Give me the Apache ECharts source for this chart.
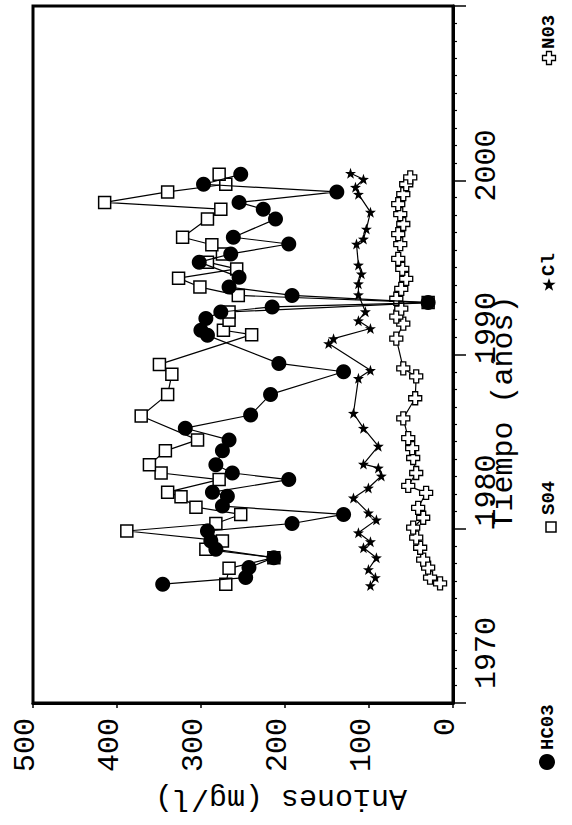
<!DOCTYPE html>
<html><head><meta charset="utf-8">
<script src="https://cdn.jsdelivr.net/npm/echarts@6/dist/echarts.min.js"></script>
<style>html,body{margin:0;padding:0;background:#fff}#c{width:572px;height:825px}</style>
</head><body><div id="c"></div>
<script>
// ---- data ----
const valueTicks = [0, 100, 200, 300, 400, 500];
const yearTicks = [1970, 1980, 1990, 2000];
const seriesNames = ['HC03', 'S04', 'Cl', 'N03'];

const hco3Years = [1976.82,1977.20,1977.77,1978.34,1978.82,1979.30,1979.87,1980.30,1980.82,1981.30,1981.87,1982.10,1982.82,1983.20,1983.67,1984.47,1985.10,1985.77,1986.53,1987.71,1989.01,1989.49,1991.10,1991.39,1992.06,1992.44,1992.73,1992.98,1993.39,1993.87,1994.44,1995.30,1995.77,1996.34,1996.73,1997.77,1998.34,1998.73,1999.33,1999.77,2000.34];
const hco3Values = [345.6,246.8,242.9,213.3,282.3,288.3,292.3,191.6,130.3,274.5,268.6,286.4,195.5,262.7,282.3,274.5,266.6,318.7,240.9,217.2,130.3,207.3,292.3,300.1,294.2,276.4,215.3,29.6,191.6,266.6,254.7,302.1,264.6,195.5,261.5,211.3,225.9,254.7,138.3,297.0,252.7];

const so4Years = [1976.82,1977.73,1978.34,1978.82,1979.30,1979.87,1980.30,1980.82,1981.24,1981.83,1982.10,1982.82,1983.20,1983.67,1984.47,1985.10,1986.47,1987.71,1988.86,1989.43,1991.14,1991.39,1991.96,1992.44,1992.98,1993.39,1993.87,1994.38,1994.91,1995.30,1995.77,1996.30,1996.73,1997.77,1998.34,1998.73,1999.33,1999.77,2000.34];
const so4Values = [270.5,266.6,213.3,294.2,274.5,388.3,282.3,252.7,306.0,323.8,339.7,278.4,347.5,361.4,342.4,304.1,371.2,339.7,334.7,349.5,239.7,273.3,266.6,266.6,29.6,255.6,301.3,326.7,257.5,292.3,274.5,287.1,321.9,292.3,276.4,414.7,339.7,270.5,278.4];

const clYears = [1976.74,1977.20,1977.66,1978.34,1978.91,1979.26,1979.77,1980.51,1980.91,1981.77,1982.34,1983.03,1983.49,1983.71,1984.74,1985.77,1986.63,1988.63,1989.09,1990.63,1990.91,1991.49,1991.94,1992.46,1993.43,1994.06,1994.63,1995.14,1996.34,1996.63,1997.20,1998.17,1999.20,1999.60,2000.06,2000.40];
const clValues = [98.3,92.4,100.7,91.2,106.6,98.3,112.6,91.2,100.7,118.5,100.7,85.3,88.9,106.6,88.9,106.6,118.5,112.6,98.3,148.1,142.2,98.3,112.6,104.3,112.6,112.6,109.0,112.6,114.9,106.6,103.1,98.3,112.6,116.1,106.6,122.0];

const no3Years = [1976.86,1977.20,1977.77,1978.23,1978.91,1979.49,1980.06,1980.63,1981.20,1982.06,1982.46,1983.20,1984.06,1984.63,1985.20,1986.34,1987.49,1988.74,1989.20,1990.91,1991.77,1992.17,1992.63,1993.20,1993.77,1994.34,1994.91,1995.49,1996.34,1996.91,1997.49,1998.06,1998.63,1999.20,1999.77,2000.17];
const no3Values = [15.4,27.3,29.6,35.5,39.1,43.8,47.4,35.5,41.5,32.0,53.3,43.8,47.4,48.6,53.3,59.2,45.0,43.8,59.2,67.5,59.2,67.5,61.6,67.5,61.6,55.7,60.4,65.2,62.8,65.2,59.2,62.8,65.2,59.2,55.7,50.9];

// ---- chart ----
const MONO = '"Liberation Mono", "Courier New", monospace';
const chart = echarts.init(document.getElementById('c'), null, {renderer: 'svg'});
function pairs(vals, yrs) { return vals.map((v, i) => [v, yrs[i]]); }

const starPath = 'path://M0,-10L2.35,-3.24L9.51,-3.09L3.8,1.24L5.88,8.09L0,4L-5.88,8.09L-3.8,1.24L-9.51,-3.09L-2.35,-3.24Z';
const crossPath = 'path://M-2.5,-6.5L2.5,-6.5L2.5,-2.5L6.5,-2.5L6.5,2.5L2.5,2.5L2.5,6.5L-2.5,6.5L-2.5,2.5L-6.5,2.5L-6.5,-2.5L-2.5,-2.5Z';

function starPts(cx, cy, R) {
  const pts = [];
  for (let i = 0; i < 10; i++) {
    const r = i % 2 === 0 ? R : R * 0.4;
    const a = -Math.PI / 2 + i * Math.PI / 5;
    pts.push([cx + r * Math.cos(a), cy + r * Math.sin(a)]);
  }
  return pts;
}
function crossPts(cx, cy, a, b) {
  return [[cx-b,cy-a],[cx+b,cy-a],[cx+b,cy-b],[cx+a,cy-b],[cx+a,cy+b],[cx+b,cy+b],[cx+b,cy+a],[cx-b,cy+a],[cx-b,cy+b],[cx-a,cy+b],[cx-a,cy-b],[cx-b,cy-b]];
}
const legendFont = 'bold 19px ' + MONO;
function legendText(txt, x, y) {
  return {type: 'text', x: x, y: y, rotation: Math.PI / 2,
    style: {text: txt, font: legendFont, fill: '#000', textAlign: 'left', textVerticalAlign: 'middle', align: 'left', verticalAlign: 'middle'}};
}

const lineStyle = {color: '#000', width: 1.2};
const labelText = {fontFamily: MONO, fontSize: 30, color: '#000'};
const hidden = {axisLine: {show: false}, axisTick: {show: false}, splitLine: {show: false}, axisLabel: {show: false}};
const option = {
  animation: false,
  backgroundColor: '#fff',
  grid: [
    {left: 33, right: 119, top: 6, bottom: 122, show: true, borderColor: '#000', borderWidth: 3, backgroundColor: 'transparent'},
    // label carrier for the value labels (printed a little left of their ticks)
    {left: 26, right: 126, top: 6, bottom: 122, show: false},
    // label carrier for the year labels (printed above their ticks)
    {left: 33, right: 119, top: -44, bottom: 172, show: false}
  ],
  xAxis: [{
    gridIndex: 0, type: 'value', min: 0, max: 500, interval: 100, inverse: true, position: 'bottom',
    axisLine: {show: true, onZero: false, lineStyle: {color: '#000', width: 3}},
    axisTick: {show: true, length: 5, lineStyle: {color: '#000', width: 1.5}},
    splitLine: {show: false},
    axisLabel: {show: false},
    name: 'Aniones (mg/l)', nameLocation: 'middle', nameRotate: 180, nameGap: 80, nameMoveOverlap: false,
    nameTextStyle: Object.assign({padding: [0, 76, 0, 0]}, labelText)
  }, {
    gridIndex: 1, type: 'value', min: 0, max: 500, interval: 100, inverse: true, position: 'bottom',
    axisLine: {show: false, onZero: false}, axisTick: {show: false}, splitLine: {show: false},
    axisLabel: Object.assign({rotate: 90, margin: 15, formatter: v => String(v)}, labelText)
  }, Object.assign({gridIndex: 2, type: 'value', min: 0, max: 500}, hidden)],
  yAxis: [{
    gridIndex: 0, type: 'value', min: 1970, max: 2010, interval: 10, position: 'right',
    axisLine: {show: true, onZero: false, lineStyle: {color: '#000', width: 3}},
    axisTick: {show: true, length: 13, lineStyle: {color: '#000', width: 1.5}},
    minorTick: {show: true, splitNumber: 10, length: 4, lineStyle: {color: '#000', width: 1.2}},
    splitLine: {show: false}, minorSplitLine: {show: false},
    axisLabel: {show: false},
    name: 'Tiempo (años)', nameLocation: 'middle', nameRotate: 90, nameGap: 36, nameMoveOverlap: false,
    nameTextStyle: Object.assign({padding: [0, 116, 0, 0]}, labelText)
  }, Object.assign({gridIndex: 1, type: 'value', min: 0, max: 1}, hidden), {
    gridIndex: 2, type: 'value', min: 1970, max: 2010, interval: 10, position: 'right',
    axisLine: {show: false, onZero: false}, axisTick: {show: false}, splitLine: {show: false},
    axisLabel: Object.assign({rotate: 90, margin: 19, formatter: v => (yearTicks.indexOf(v) >= 0 ? String(v) : '')}, labelText)
  }],
  series: [
    {type: 'line', name: seriesNames[1], data: pairs(so4Values, so4Years), symbol: 'rect', symbolSize: 12,
      itemStyle: {color: '#fff', borderColor: '#000', borderWidth: 1.5}, lineStyle: lineStyle, z: 2},
    {type: 'line', name: seriesNames[0], data: pairs(hco3Values, hco3Years), symbol: 'circle', symbolSize: 15,
      itemStyle: {color: '#000'}, lineStyle: lineStyle, z: 3},
    {type: 'line', name: seriesNames[2], data: pairs(clValues, clYears), symbol: starPath, symbolSize: 11,
      itemStyle: {color: '#000'}, lineStyle: lineStyle, z: 3},
    {type: 'line', name: seriesNames[3], data: pairs(no3Values, no3Years), symbol: crossPath, symbolSize: 13,
      itemStyle: {color: '#fff', borderColor: '#000', borderWidth: 1.3}, lineStyle: lineStyle, z: 2}
  ],
  graphic: [
    {type: 'text', x: 316, y: 4, style: {text: 'Punto: 293030099', font: '27px ' + MONO, fill: '#000', textAlign: 'center', textVerticalAlign: 'bottom', align: 'center', verticalAlign: 'bottom'}},
    {type: 'circle', shape: {cx: 547, cy: 762, r: 8}, style: {fill: '#000'}},
    legendText(seriesNames[0], 548, 750),
    {type: 'rect', shape: {x: 546, y: 522, width: 10, height: 10}, style: {fill: '#fff', stroke: '#000', lineWidth: 1.5}},
    legendText(seriesNames[1], 549, 515),
    {type: 'polygon', shape: {points: starPts(549, 285, 7)}, style: {fill: '#000'}},
    legendText(seriesNames[2], 549, 276),
    {type: 'polygon', shape: {points: crossPts(549, 58, 6.5, 2.5)}, style: {fill: '#fff', stroke: '#000', lineWidth: 1.3}},
    legendText(seriesNames[3], 549, 49)
  ]
};
chart.setOption(option);
</script>
</body></html>
